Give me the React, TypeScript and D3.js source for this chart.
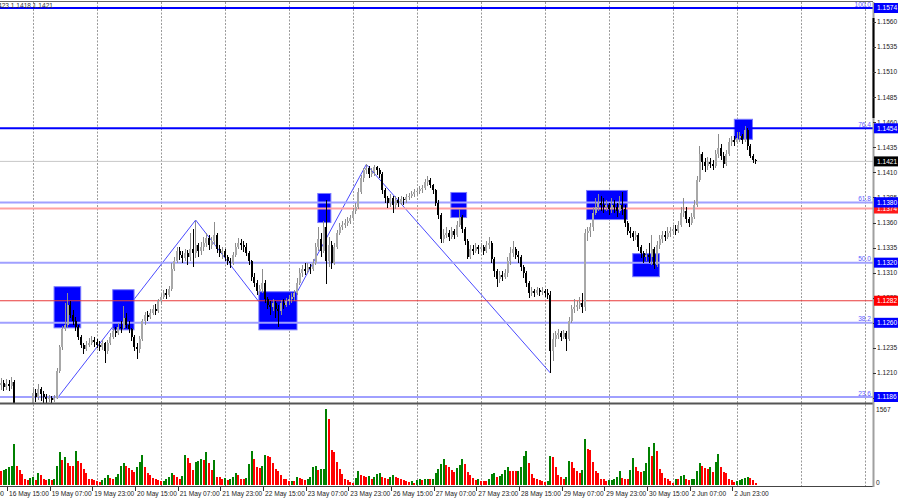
import React from "react";
import * as d3 from "d3";

// Prices are stored in pips above 1.1000 (e.g. 421 -> 1.1421)
const BASE = 1.1;
const PIP = 0.0001;
const firstOpen = 198;

const closes = [
  200,196,199,197,201,168,165,162,158,160,163,170,
  190,186,194,189,186,184,185,183,185,212,236,254,258,278,268,262,256,246,238,234,238,240,243,241,
  238,236,240,232,240,246,252,250,256,255,265,258,254,246,236,234,244,262,268,266,270,274,272,282,
  286,290,288,294,314,322,332,328,325,330,326,334,330,338,332,336,340,345,338,342,348,334,330,332,
  326,322,320,328,336,340,338,336,330,322,306,300,292,294,300,284,278,276,280,274,272,280,278,282,
  284,286,290,300,310,314,312,316,314,320,336,344,332,356,322,338,320,336,350,356,358,360,362,365,
  372,376,390,404,412,414,408,410,415,412,408,392,384,380,384,378,382,380,383,382,385,386,388,390,
  391,393,394,400,402,397,392,380,368,344,348,350,346,352,348,358,366,354,342,326,334,332,336,334,
  336,332,338,340,324,312,304,308,306,310,322,330,334,328,326,316,310,300,290,292,290,293,291,292,
  290,288,232,244,248,250,246,250,244,262,274,276,278,280,276,350,352,356,370,376,380,378,376,378,
  374,378,376,372,378,374,360,352,350,346,348,336,330,326,328,326,334,318,338,344,348,346,350,352,
  354,352,358,370,372,364,360,366,378,402,428,420,416,420,418,416,428,434,426,418,428,440,442,440,
  444,446,442,452,436,426,422,421,
];
const highs = [
  205,203,204,203,206,203,172,168,166,164,167,174,
  196,194,199,196,192,189,188,187,188,215,238,257,280,290,282,273,266,258,248,240,242,245,247,246,
  244,242,243,241,243,250,255,256,260,262,277,270,262,255,248,240,247,264,271,272,274,278,279,284,
  289,293,294,297,320,326,336,336,332,334,333,350,354,362,340,341,346,350,348,346,361,350,338,336,
  334,328,325,331,340,345,344,342,340,332,323,310,303,298,314,303,286,282,284,282,278,283,284,285,
  288,290,293,305,315,318,320,320,319,324,340,356,350,362,382,346,342,340,353,360,362,364,366,368,
  375,380,394,407,414,418,416,414,417,416,414,410,394,386,388,386,386,385,386,385,388,389,391,393,
  394,396,397,403,406,404,398,393,382,370,354,356,353,356,354,362,374,368,356,344,338,338,340,338,
  340,338,342,346,342,326,314,312,312,314,326,336,342,336,332,328,318,312,302,296,294,296,295,296,
  294,294,292,250,252,254,252,253,252,266,278,284,282,286,290,354,356,360,376,384,388,386,384,382,
  380,384,382,380,386,390,378,362,356,352,352,350,338,332,334,340,348,336,342,348,352,352,356,356,
  358,358,362,376,384,376,366,370,382,406,436,430,424,425,424,422,432,448,438,430,432,444,446,446,
  450,450,448,456,454,438,428,423,
];
const lows = [
  193,192,193,192,194,160,158,155,152,154,157,160,
  168,181,183,182,180,179,181,180,181,184,210,233,252,255,265,258,252,243,235,229,232,236,238,236,
  235,232,233,220,229,238,244,246,248,250,253,255,250,242,232,224,230,242,258,262,264,268,268,270,
  280,284,284,286,292,312,320,323,320,322,318,322,316,325,326,328,332,336,333,334,338,330,326,324,
  322,318,315,318,326,334,333,331,327,318,302,296,288,288,290,280,274,268,272,265,256,268,274,276,
  278,280,282,288,298,306,308,310,309,312,318,332,326,330,299,316,314,318,334,348,353,355,357,359,
  364,369,374,388,400,408,404,405,406,407,404,388,380,375,376,370,374,376,378,378,380,382,384,385,
  386,388,389,392,396,394,388,377,364,340,340,345,342,344,344,346,356,350,338,324,324,328,330,329,
  331,328,330,334,320,306,296,300,302,304,306,318,326,324,320,312,305,296,285,287,286,288,287,288,
  286,284,210,222,236,244,242,244,232,242,260,270,272,274,270,272,342,346,352,368,372,372,370,372,
  368,370,370,366,370,368,356,348,345,342,343,332,325,320,322,320,318,314,316,334,340,342,344,346,
  348,348,350,356,366,360,356,358,364,376,400,412,410,412,414,412,414,424,422,414,416,426,436,436,
  438,440,438,440,432,424,419,418,
];
const volumes = [
  295,309,323,364,392,845,392,309,227,124,103,151,
  172,103,240,199,117,103,117,103,120,392,680,515,
  584,460,392,392,707,502,447,323,240,131,117,103,
  82,69,103,137,199,137,131,158,227,392,447,392,
  344,309,275,364,467,611,364,240,213,144,131,103,
  76,89,131,158,254,206,158,124,185,611,550,447,
  309,481,502,529,515,680,460,309,515,172,165,131,
  137,103,117,158,254,206,131,125,144,433,707,543,
  364,344,392,625,605,570,460,323,295,206,131,117,
  82,89,76,158,137,117,103,124,172,364,392,309,
  323,337,1567,1353,721,687,481,323,227,117,103,69,
  48,151,289,206,192,158,185,131,172,227,240,172,
  137,131,158,199,172,151,131,103,89,69,82,48,
  103,131,103,124,131,117,131,240,323,433,543,419,
  364,309,275,344,412,543,433,268,206,144,103,124,
  89,82,76,124,227,240,172,185,227,309,364,295,
  289,282,295,378,598,694,460,220,151,117,103,76,
  69,89,598,584,364,199,172,124,172,502,474,344,
  295,254,302,955,749,721,481,295,240,131,124,89,
  103,110,117,172,295,137,131,124,309,556,364,282,
  268,295,447,776,598,872,694,323,240,144,117,89,
  48,131,117,185,199,117,110,117,131,295,447,392,
  350,337,364,275,467,639,364,268,240,117,103,55,
  76,103,124,151,158,151,103,48,
];

const timeLabels = [
  "16 May 15:00","19 May 07:00","19 May 23:00","20 May 15:00","21 May 07:00","21 May 23:00",
  "22 May 15:00","23 May 07:00","23 May 23:00","26 May 15:00","27 May 07:00","27 May 23:00",
  "28 May 15:00","29 May 07:00","29 May 23:00","30 May 15:00","2 Jun 07:00","2 Jun 23:00",
];
const previousLabel = "15 May 23:00";
const firstLabelBar = 3;
const labelEvery = 16;
const dayStartBars = [12,36,60,84,108,132,156,180,204,228,252,276,300,324];

const priceTicks = [1.1185,1.121,1.1235,1.126,1.1285,1.131,1.1335,1.136,1.1385,1.141,1.1435,1.146,1.1485,1.151,1.1535,1.156];

const fibPrices = [1.1574, 1.1454, 1.138, 1.132, 1.126, 1.1186];
const fibNames = ["100.0", "76.4", "61.8", "50.0", "38.2", "23.6"];
const fibStrong = [true, true, false, false, false, false];
const redSoftLevel = 1.1374;
const redLevel = 1.1282;
const lastPrice = 1.1421;

// rectangles: [fromBar, toBar, topPrice, bottomPrice]
const zones = [
  [19.9, 29.9, 1.1296, 1.1255],
  [41.9, 49.9, 1.1293, 1.1253],
  [96.7, 111, 1.1291, 1.1253],
  [118.8, 123.7, 1.1389, 1.136],
  [168.7, 174.6, 1.139, 1.1365],
  [219.6, 234.9, 1.1392, 1.1363],
  [236.9, 246.9, 1.1329, 1.1306],
  [275, 281.8, 1.1463, 1.1443],
];
const zigzagBars = [21, 73, 104, 137, 206];
const zigzagPrices = [1.11845, 1.13625, 1.1256, 1.1418, 1.121];

const volMax = 1567;
const ohlcText = "1.1423 1.1418 1.1421";

const FONT = "'Liberation Sans', Arial, sans-serif";
const FS = 6.6;

export default function App() {
  const W = 900, H = 500;
  const axisX = 873;
  const mainTop = 2, mainBottom = 403;
  const volBottom = 486;

  const x = d3.scaleLinear().domain([0, 324]).range([1, 865]);
  const y = d3.scaleLinear().domain([1.1186, 1.1574]).range([397, 8]);
  const yv = d3.scaleLinear().domain([0, volMax]).range([485, 409]);
  const pr = (p: number) => BASE + p * PIP;

  const candles = closes.map((c, i) => {
    const o = i === 0 ? firstOpen : closes[i - 1];
    const h = Math.max(highs[i], o, c);
    const l = Math.min(lows[i], o, c);
    return { i, o: pr(o), c: pr(c), h: pr(h), l: pr(l) };
  });

  const zz = d3.line<number>()
    .x((b) => x(b))
    .y((_, k) => y(zigzagPrices[k]));

  const boxes: { p: number; fill: string; text: string }[] = [
    { p: redLevel, fill: "#ff0000", text: redLevel.toFixed(4) },
    ...fibPrices.slice(2).map((p) => ({ p, fill: "#0000ff", text: p.toFixed(4) })),
    { p: redSoftLevel, fill: "#ff1a1a", text: redSoftLevel.toFixed(4) },
    { p: fibPrices[2], fill: "#0000ff", text: fibPrices[2].toFixed(4) },
    { p: lastPrice, fill: "#000000", text: lastPrice.toFixed(4) },
    { p: fibPrices[0], fill: "#0000ff", text: fibPrices[0].toFixed(4) },
    { p: fibPrices[1], fill: "#0000ff", text: fibPrices[1].toFixed(4) },
  ];

  return (
    <svg width={W} height={H} style={{ position: "absolute", left: 0, top: 0, background: "#fff" }} fontFamily={FONT}>
      <defs>
        <clipPath id="mainClip"><rect x={0} y={mainTop} width={axisX} height={mainBottom - mainTop} /></clipPath>
      </defs>
      <rect x={0} y={0} width={W} height={H} fill="#fff" />

      {/* vertical dotted grid */}
      {dayStartBars.map((b) => (
        <line key={"g" + b} x1={Math.round(x(b)) + 0.5} x2={Math.round(x(b)) + 0.5} y1={mainTop} y2={volBottom}
          stroke="#9a9a9a" strokeDasharray="2,1.5" />
      ))}

      <g clipPath="url(#mainClip)">
        {/* zigzag */}
        <path d={zz(zigzagBars) || ""} fill="none" stroke="#4a4aff" strokeWidth={1} />
        {/* zones */}
        {zones.map((z, k) => (
          <rect key={"z" + k} x={x(z[0])} y={y(z[2])} width={x(z[1]) - x(z[0])} height={y(z[3]) - y(z[2])}
            fill="#0000ff" stroke="#7a7aff" strokeWidth={1} />
        ))}
        {/* levels */}
        <line x1={0} x2={axisX} y1={y(lastPrice)} y2={y(lastPrice)} stroke="#c8c8c8" strokeWidth={1} />
        {fibPrices.map((p, k) => (
          <line key={"f" + k} x1={0} x2={axisX} y1={y(p)} y2={y(p)} stroke={fibStrong[k] ? "#0000ff" : "#a0a0ff"} strokeWidth={2} />
        ))}
        <line x1={0} x2={axisX} y1={y(redSoftLevel)} y2={y(redSoftLevel)} stroke="#ffa0a0" strokeWidth={2} />
        <line x1={0} x2={axisX} y1={y(redLevel)} y2={y(redLevel)} stroke="#e83a3a" strokeWidth={1} />
        {fibPrices.map((p, k) => (
          <text key={"ft" + k} x={871} y={y(p) - 1.5} textAnchor="end" fontSize={6.6} fill="#5c5cff">{fibNames[k]}</text>
        ))}
        {/* candles */}
        <g shapeRendering="crispEdges">
          {candles.map((d) => {
            const bull = d.c >= d.o;
            const cx = x(d.i);
            const top = y(Math.max(d.o, d.c));
            const bot = y(Math.min(d.o, d.c));
            const col = bull ? "#8c8c8c" : "#000";
            return (
              <g key={"c" + d.i}>
                <line x1={cx} x2={cx} y1={y(d.h)} y2={y(d.l)} stroke={col} strokeWidth={1} />
                <rect x={cx - 1} y={top} width={2} height={Math.max(1, bot - top)} fill={bull ? "#a8a8a8" : "#000"} />
              </g>
            );
          })}
        </g>
      </g>

      {/* OHLC text */}
      <text x={53} y={7.5} textAnchor="end" fontSize={FS} fill="#333">{ohlcText}</text>

      {/* frame lines */}
      <line x1={0} x2={axisX} y1={1.5} y2={1.5} stroke="#666" strokeWidth={1} />
      <line x1={0} x2={axisX} y1={mainBottom + 0.5} y2={mainBottom + 0.5} stroke="#555" strokeWidth={2} />
      <line x1={0} x2={axisX} y1={volBottom + 0.5} y2={volBottom + 0.5} stroke="#444" strokeWidth={1} />
      <line x1={axisX + 0.5} x2={axisX + 0.5} y1={mainTop} y2={volBottom + 1} stroke="#a0a0a0" strokeWidth={2} />
      <line x1={axisX + 0.5} x2={axisX + 0.5} y1={18} y2={118} stroke="#000" strokeWidth={2} />

      {/* volumes */}
      <g shapeRendering="crispEdges">
        {volumes.map((v, i) => {
          const up = i > 0 && v > volumes[i - 1];
          return (
            <rect key={"v" + i} x={x(i) - 1} y={yv(v)} width={2} height={yv(0) - yv(v)} fill={up ? "#008000" : "#ff0000"} />
          );
        })}
      </g>
      <text x={876} y={411.5} fontSize={FS} fill="#222">{volMax}</text>
      <text x={876} y={484.5} fontSize={FS} fill="#222">0</text>

      {/* price axis ticks */}
      {priceTicks.map((p) => (
        <g key={"pt" + p}>
          <line x1={873} x2={876} y1={Math.round(y(p)) + 0.5} y2={Math.round(y(p)) + 0.5} stroke="#333" />
          <text x={877} y={y(p) + 2.3} fontSize={FS} fill="#222">{p.toFixed(4)}</text>
        </g>
      ))}
      {boxes.map((b, k) => (
        <g key={"b" + k}>
          <rect x={874} y={y(b.p) - 5} width={24} height={10} fill={b.fill} />
          <text x={877} y={y(b.p) + 2.3} fontSize={FS} fill="#fff">{b.text}</text>
        </g>
      ))}

      {/* time axis */}
      <text x={x(firstLabelBar) - 5} y={495.5} textAnchor="end" fontSize={FS} fill="#222">{previousLabel}</text>
      {timeLabels.map((t, k) => {
        const bx = x(firstLabelBar + k * labelEvery);
        return (
          <g key={"t" + k}>
            <line x1={Math.round(bx) - 1.5} x2={Math.round(bx) - 1.5} y1={487} y2={491} stroke="#333" />
            <text x={bx} y={495.5} fontSize={FS} fill="#222">{t}</text>
          </g>
        );
      })}
    </svg>
  );
}
